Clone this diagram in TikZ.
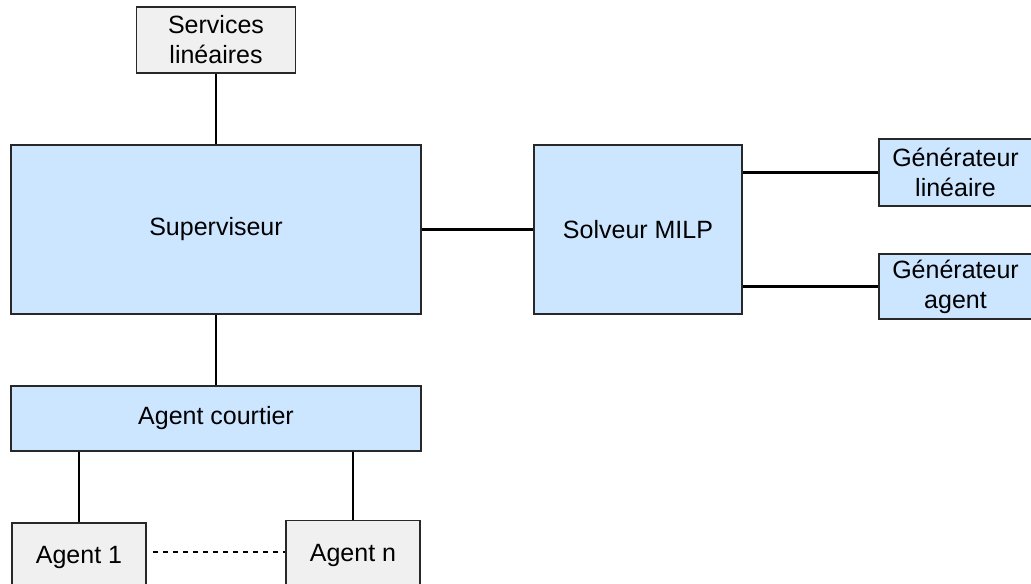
\documentclass[tikz,border=0pt]{standalone}
\usepackage{fontspec}
\setmainfont{Liberation Sans}
\definecolor{boxblue}{RGB}{204,230,255}
\definecolor{boxgray}{RGB}{240,240,240}
\definecolor{edgecol}{RGB}{40,40,40}
\begin{document}
\begin{tikzpicture}[x=0.5pt,y=-0.5pt,
  base/.style={draw=edgecol,line width=0.75pt,rectangle,inner sep=0pt,align=center,
    font=\fontsize{12.5}{15}\selectfont},
  bluebox/.style={base,fill=boxblue},
  graybox/.style={base,fill=boxgray},
  conn/.style={line width=1.4pt,black},
  dotconn/.style={line width=1pt,black,dash pattern=on 2.5pt off 2.5pt}]
\useasboundingbox (0,0) rectangle (1031,583);
\node[graybox,minimum width=79.5pt,minimum height=33pt] (serv) at (216,40) {Services\\linéaires};
\node[bluebox,minimum width=205pt,minimum height=84.5pt] (sup) at (216,229.5) {Superviseur};
\node[bluebox,minimum width=104pt,minimum height=84.5pt] (solv) at (638,229.5) {Solveur MILP};
\node[bluebox,minimum width=76.5pt,minimum height=33.5pt] (genl) at (955.5,172.5) {Générateur\\linéaire};
\node[bluebox,minimum width=76.5pt,minimum height=32.5pt] (gena) at (955.5,286.5) {Générateur\\agent};
\node[bluebox,minimum width=205pt,minimum height=32.5pt] (court) at (216,418.5) {Agent courtier};
\node[graybox,minimum width=67pt,minimum height=34pt] (ag1) at (79,557) {Agent 1};
\node[graybox,minimum width=67pt,minimum height=35pt] (agn) at (353,555.5) {Agent n};
\draw[conn] (serv.south) -- (sup.north);
\draw[conn] (sup.east) -- (solv.west);
\draw[conn] (solv.east |- genl.west) -- (genl.west);
\draw[conn] (solv.east |- gena.west) -- (gena.west);
\draw[conn] (sup.south) -- (court.north);
\draw[conn] (ag1.north) -- (ag1.north |- court.south);
\draw[conn] (agn.north) -- (agn.north |- court.south);
\draw[dotconn] ([xshift=3pt,yshift=2.5pt]ag1.east) -- ([yshift=1.75pt]agn.west);
\end{tikzpicture}
\end{document}
